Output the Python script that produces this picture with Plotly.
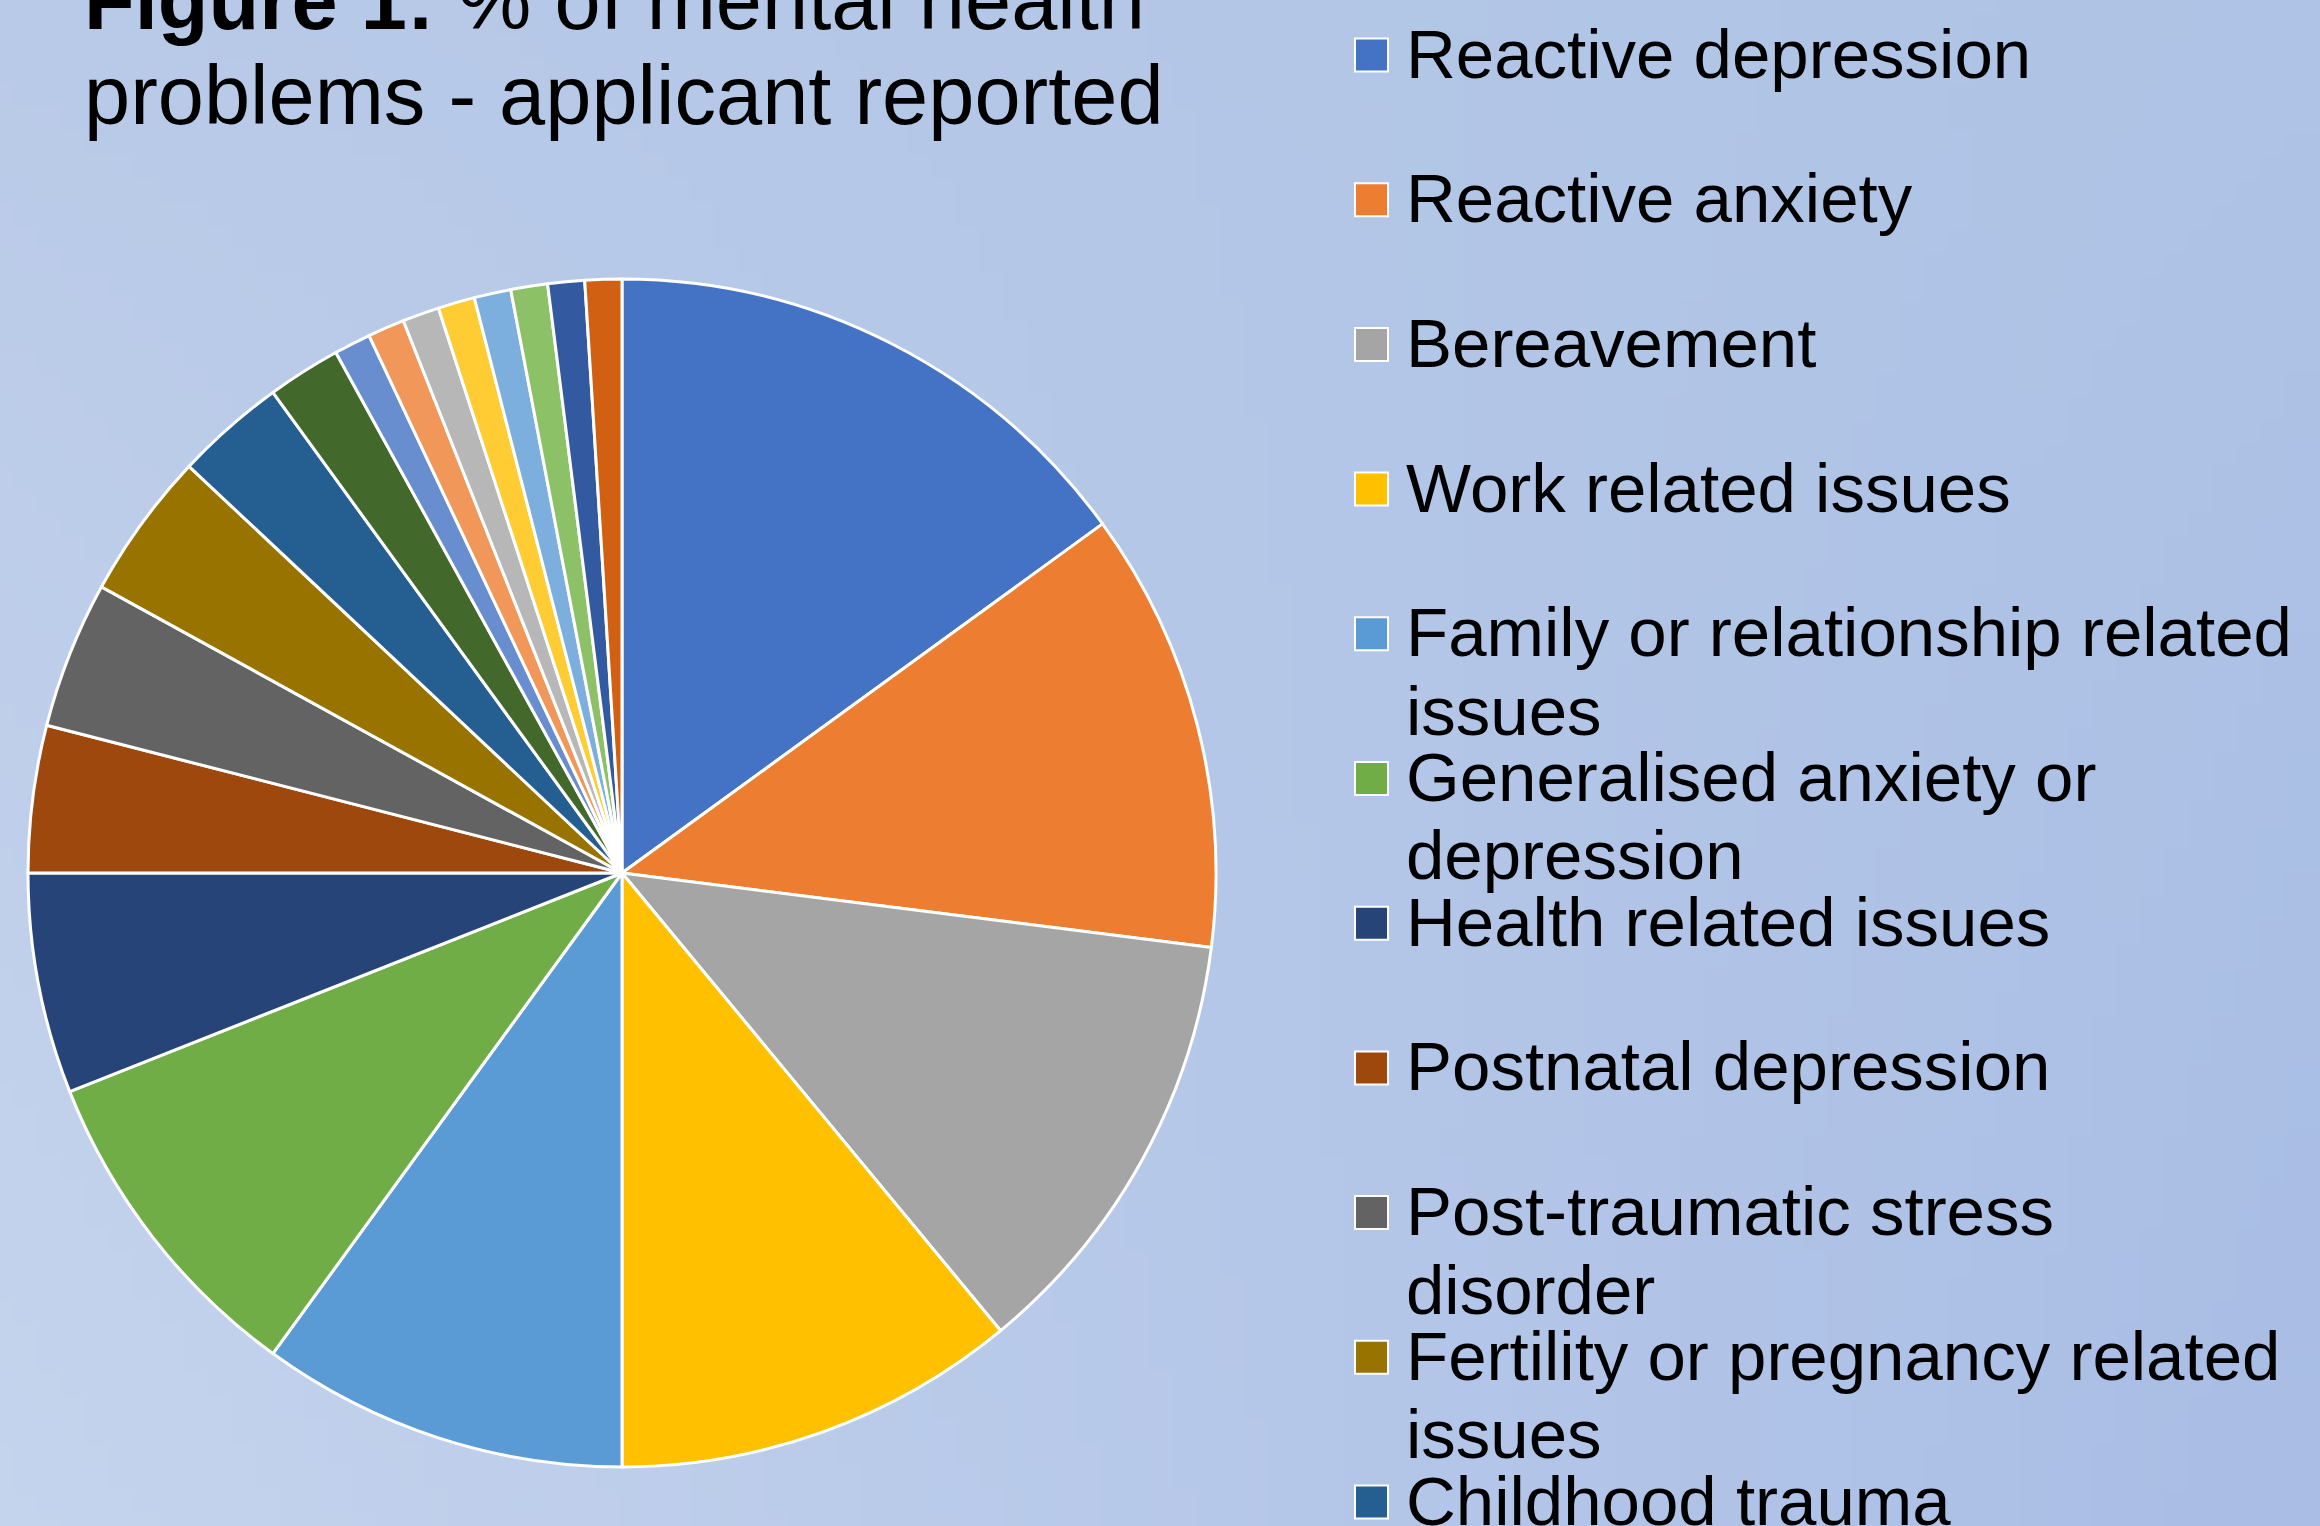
import base64
import struct
import zlib

import plotly.graph_objects as go

# ---------------- data ----------------
labels = [
    "Reactive depression",
    "Reactive anxiety",
    "Bereavement",
    "Work related issues",
    "Family or relationship related issues",
    "Generalised anxiety or depression",
    "Health related issues",
    "Postnatal depression",
    "Post-traumatic stress disorder",
    "Fertility or pregnancy related issues",
    "Childhood trauma",
    "Stress",
    "Eating disorder",
    "Obsessive compulsive disorder",
    "Bipolar disorder",
    "Self-harm",
    "Personality disorder",
    "Addiction",
    "Psychosis",
    "Other",
]
values = [15, 12, 12, 11, 10, 9, 6, 4, 4, 4, 3, 2, 1, 1, 1, 1, 1, 1, 1, 1]
colors = [
    "#4472C4", "#ED7D31", "#A5A5A5", "#FFC000", "#5B9BD5", "#70AD47",
    "#264478", "#9E480E", "#636363", "#997300", "#255E91", "#43682B",
    "#698ED0", "#F1975A", "#B7B7B7", "#FFCD33", "#7CAFDD", "#8CC168",
    "#335AA1", "#D26012",
]
title_lines = ["<b>Figure 1:</b> % of mental health", "problems - applicant reported"]

# ---------------- layout helpers ----------------
W, H = 2320, 1526
FONT = "Liberation Sans, Arial, sans-serif"


def px_x(x):
    return x / W


def px_y(y):
    return 1 - y / H


# approximate Arial advance widths (em) for wrapping legend text
_w = {}
for ch in "ijl":
    _w[ch] = 0.222
for ch in "ft ":
    _w[ch] = 0.278
for ch in "r-":
    _w[ch] = 0.333
for ch in "cksvxyz":
    _w[ch] = 0.5
_w.update({"m": 0.833, "w": 0.722, "W": 0.944, "F": 0.611, "R": 0.722,
           "G": 0.778, "H": 0.722, "C": 0.722, "I": 0.278})


def em_width(s):
    return sum(_w.get(c, 0.667 if c.isupper() else 0.556) for c in s)


def wrap(s, max_em=13.05):
    lines, cur = [], ""
    for word in s.split(" "):
        trial = (cur + " " + word).strip()
        if cur and em_width(trial) > max_em:
            lines.append(cur)
            cur = word
        else:
            cur = trial
    lines.append(cur)
    return lines


# ---------------- background gradient (embedded PNG) ----------------
c_tl, c_tr = (185, 202, 232), (174, 195, 229)
c_bl, c_br = (197, 212, 237), (169, 189, 229)


def grad_png(w=96, h=64):
    rows = []
    for j in range(h):
        v = j / (h - 1)
        row = bytearray([0])
        for i in range(w):
            u = i / (w - 1)
            for k in range(3):
                top = c_tl[k] * (1 - u) + c_tr[k] * u
                bot = c_bl[k] * (1 - u) + c_br[k] * u
                row.append(int(round(top * (1 - v) + bot * v)))
        rows.append(bytes(row))
    raw = b"".join(rows)

    def chunk(t, d):
        return struct.pack(">I", len(d)) + t + d + struct.pack(">I", zlib.crc32(t + d) & 0xFFFFFFFF)

    png = (b"\x89PNG\r\n\x1a\n"
           + chunk(b"IHDR", struct.pack(">IIBBBBB", w, h, 8, 2, 0, 0, 0))
           + chunk(b"IDAT", zlib.compress(raw, 9))
           + chunk(b"IEND", b""))
    return "data:image/png;base64," + base64.b64encode(png).decode()


# ---------------- figure ----------------
cx, cy, r = 622, 873, 594
fig = go.Figure(
    go.Pie(
        labels=labels,
        values=values,
        sort=False,
        direction="clockwise",
        rotation=0,
        textinfo="none",
        marker=dict(colors=colors, line=dict(color="white", width=3)),
        domain=dict(x=[px_x(cx - r), px_x(cx + r)], y=[px_y(cy + r), px_y(cy - r)]),
        showlegend=False,
    )
)

annotations = []
shapes = []

# title (two lines, partly cut off at the top like the reference)
title_size = 83
for i, (line, base) in enumerate(zip(title_lines, [29, 124])):
    annotations.append(dict(
        text=line, x=px_x(84), y=px_y(base - 0.3465 * title_size),
        xref="paper", yref="paper", xanchor="left", yanchor="middle",
        showarrow=False, borderpad=0, borderwidth=0,
        font=dict(family=FONT, size=title_size, color="black"),
    ))

# legend, drawn manually so rows keep the reference's fixed spacing
leg_size = 69
row0, row_step, line_step = 78, 144.7, 78.4
sw = 33
for i, (lab, col) in enumerate(zip(labels, colors)):
    base = row0 + i * row_step
    if base - 50 > H:
        break
    shapes.append(dict(
        type="rect", xref="paper", yref="paper",
        x0=px_x(1355), x1=px_x(1355 + sw),
        y0=px_y(base - 6.5), y1=px_y(base - 6.5 - sw),
        fillcolor=col, line=dict(color="white", width=2),
    ))
    for j, ln in enumerate(wrap(lab, 13.2)):
        b = base + j * line_step
        annotations.append(dict(
            text=ln, x=px_x(1406), y=px_y(b - 0.3465 * leg_size),
            xref="paper", yref="paper", xanchor="left", yanchor="middle",
            showarrow=False, borderpad=0, borderwidth=0,
            font=dict(family=FONT, size=leg_size, color="black"),
        ))

fig.update_layout(
    width=W, height=H,
    margin=dict(l=0, r=0, t=0, b=0),
    paper_bgcolor="#B4C6E7",
    plot_bgcolor="rgba(0,0,0,0)",
    images=[dict(source=grad_png(), xref="paper", yref="paper", x=0, y=1,
                 sizex=1, sizey=1, sizing="stretch", xanchor="left", yanchor="top",
                 layer="below")],
    annotations=annotations,
    shapes=shapes,
    showlegend=False,
)

fig.write_html(
    "out.html",
    config={"displayModeBar": False},
    post_script="document.body.style.margin='0';document.body.style.overflow='hidden';",
)
